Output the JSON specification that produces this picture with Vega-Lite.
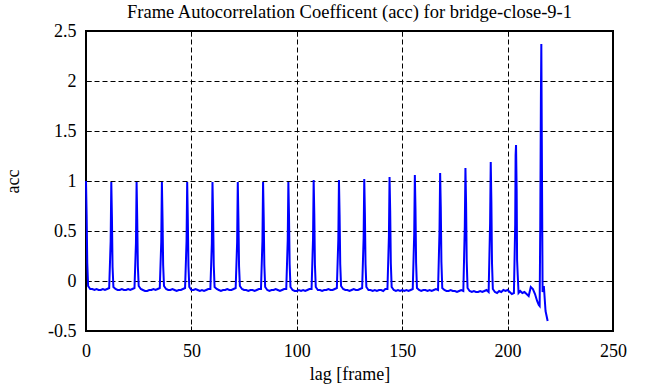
{
  "$schema": "https://vega.github.io/schema/vega-lite/v6.json",
  "width": 527,
  "height": 300,
  "autosize": {"type": "none"},
  "padding": {"left": 86, "top": 31, "right": 43, "bottom": 56},
  "background": "white",
  "title": {"text": "Frame Autocorrelation Coefficent (acc) for bridge-close-9-1", "anchor": "middle", "fontSize": 18.5, "fontWeight": "normal", "font": "Liberation Serif", "color": "black", "offset": 1},
  "config": {
    "font": "Liberation Serif",
    "style": {"guide-label": {"font": "Liberation Serif", "fill": "black"}, "guide-title": {"font": "Liberation Serif", "fill": "black"}},
    "view": {"stroke": "black", "strokeWidth": 2},
    "axis": {"labelFont": "Liberation Serif", "titleFont": "Liberation Serif", "labelFontSize": 18, "titleFontSize": 18, "titleFontWeight": "normal", "labelColor": "black", "titleColor": "black", "labelFlush": false, "domain": false, "tickColor": "black", "tickSize": -5, "tickWidth": 1, "grid": true, "gridColor": "black", "gridDash": [5, 3], "gridWidth": 1, "gridOpacity": 1}
  },
  "data": {"values": [
    {"lag":0,"acc":1.00},{"lag":0.3,"acc":0.66},{"lag":0.6,"acc":0.18},{"lag":1,"acc":-0.05},{"lag":2,"acc":-0.08},{"lag":3,"acc":-0.08},{"lag":4,"acc":-0.09},{"lag":5,"acc":-0.08},{"lag":6,"acc":-0.09},{"lag":7,"acc":-0.09},{"lag":8,"acc":-0.08},{"lag":9,"acc":-0.09},{"lag":10,"acc":-0.08},{"lag":11,"acc":-0.07},
    {"lag":11.7,"acc":0.40},{"lag":12,"acc":0.99},{"lag":12.3,"acc":0.64},{"lag":12.6,"acc":0.14},{"lag":13,"acc":-0.06},{"lag":14,"acc":-0.08},{"lag":15,"acc":-0.09},{"lag":16,"acc":-0.09},{"lag":17,"acc":-0.08},{"lag":18,"acc":-0.09},{"lag":19,"acc":-0.09},{"lag":20,"acc":-0.08},{"lag":21,"acc":-0.09},{"lag":22,"acc":-0.08},{"lag":23,"acc":-0.07},
    {"lag":23.7,"acc":0.38},{"lag":24,"acc":0.99},{"lag":24.3,"acc":0.62},{"lag":24.6,"acc":0.15},{"lag":25,"acc":-0.05},{"lag":26,"acc":-0.08},{"lag":27,"acc":-0.09},{"lag":28,"acc":-0.10},{"lag":29,"acc":-0.10},{"lag":30,"acc":-0.09},{"lag":31,"acc":-0.09},{"lag":32,"acc":-0.08},{"lag":33,"acc":-0.09},{"lag":34,"acc":-0.08},{"lag":35,"acc":-0.07},
    {"lag":35.7,"acc":0.39},{"lag":36,"acc":0.99},{"lag":36.3,"acc":0.63},{"lag":36.6,"acc":0.16},{"lag":37,"acc":-0.05},{"lag":38,"acc":-0.08},{"lag":39,"acc":-0.09},{"lag":40,"acc":-0.09},{"lag":41,"acc":-0.08},{"lag":42,"acc":-0.09},{"lag":43,"acc":-0.10},{"lag":44,"acc":-0.09},{"lag":45,"acc":-0.09},{"lag":46,"acc":-0.08},{"lag":47,"acc":-0.07},
    {"lag":47.7,"acc":0.40},{"lag":48,"acc":0.99},{"lag":48.3,"acc":0.62},{"lag":48.6,"acc":0.15},{"lag":49,"acc":-0.06},{"lag":50,"acc":-0.09},{"lag":51,"acc":-0.09},{"lag":52,"acc":-0.08},{"lag":53,"acc":-0.09},{"lag":54,"acc":-0.10},{"lag":55,"acc":-0.09},{"lag":56,"acc":-0.10},{"lag":57,"acc":-0.09},{"lag":58,"acc":-0.08},{"lag":59,"acc":-0.08},
    {"lag":59.7,"acc":0.38},{"lag":60,"acc":0.99},{"lag":60.3,"acc":0.65},{"lag":60.6,"acc":0.16},{"lag":61,"acc":-0.06},{"lag":62,"acc":-0.08},{"lag":63,"acc":-0.09},{"lag":64,"acc":-0.10},{"lag":65,"acc":-0.09},{"lag":66,"acc":-0.09},{"lag":67,"acc":-0.08},{"lag":68,"acc":-0.09},{"lag":69,"acc":-0.09},{"lag":70,"acc":-0.08},{"lag":71,"acc":-0.07},
    {"lag":71.7,"acc":0.39},{"lag":72,"acc":0.99},{"lag":72.3,"acc":0.63},{"lag":72.6,"acc":0.15},{"lag":73,"acc":-0.05},{"lag":74,"acc":-0.08},{"lag":75,"acc":-0.09},{"lag":76,"acc":-0.09},{"lag":77,"acc":-0.10},{"lag":78,"acc":-0.09},{"lag":79,"acc":-0.09},{"lag":80,"acc":-0.10},{"lag":81,"acc":-0.09},{"lag":82,"acc":-0.08},{"lag":83,"acc":-0.08},
    {"lag":83.7,"acc":0.40},{"lag":84,"acc":0.99},{"lag":84.3,"acc":0.64},{"lag":84.6,"acc":0.16},{"lag":85,"acc":-0.06},{"lag":86,"acc":-0.09},{"lag":87,"acc":-0.10},{"lag":88,"acc":-0.09},{"lag":89,"acc":-0.09},{"lag":90,"acc":-0.08},{"lag":91,"acc":-0.09},{"lag":92,"acc":-0.10},{"lag":93,"acc":-0.09},{"lag":94,"acc":-0.08},{"lag":95,"acc":-0.08},
    {"lag":95.7,"acc":0.41},{"lag":96,"acc":0.99},{"lag":96.3,"acc":0.66},{"lag":96.6,"acc":0.17},{"lag":97,"acc":-0.06},{"lag":98,"acc":-0.09},{"lag":99,"acc":-0.10},{"lag":100,"acc":-0.10},{"lag":101,"acc":-0.09},{"lag":102,"acc":-0.10},{"lag":103,"acc":-0.09},{"lag":104,"acc":-0.10},{"lag":105,"acc":-0.09},{"lag":106,"acc":-0.08},{"lag":107,"acc":-0.08},
    {"lag":107.7,"acc":0.42},{"lag":108,"acc":1.01},{"lag":108.3,"acc":0.67},{"lag":108.6,"acc":0.16},{"lag":109,"acc":-0.06},{"lag":110,"acc":-0.09},{"lag":111,"acc":-0.09},{"lag":112,"acc":-0.10},{"lag":113,"acc":-0.09},{"lag":114,"acc":-0.09},{"lag":115,"acc":-0.08},{"lag":116,"acc":-0.09},{"lag":117,"acc":-0.09},{"lag":118,"acc":-0.08},{"lag":119,"acc":-0.07},
    {"lag":119.7,"acc":0.42},{"lag":120,"acc":1.01},{"lag":120.3,"acc":0.66},{"lag":120.6,"acc":0.17},{"lag":121,"acc":-0.05},{"lag":122,"acc":-0.08},{"lag":123,"acc":-0.09},{"lag":124,"acc":-0.09},{"lag":125,"acc":-0.10},{"lag":126,"acc":-0.09},{"lag":127,"acc":-0.08},{"lag":128,"acc":-0.09},{"lag":129,"acc":-0.09},{"lag":130,"acc":-0.08},{"lag":131,"acc":-0.07},
    {"lag":131.7,"acc":0.43},{"lag":132,"acc":1.02},{"lag":132.3,"acc":0.68},{"lag":132.6,"acc":0.17},{"lag":133,"acc":-0.06},{"lag":134,"acc":-0.09},{"lag":135,"acc":-0.09},{"lag":136,"acc":-0.10},{"lag":137,"acc":-0.09},{"lag":138,"acc":-0.10},{"lag":139,"acc":-0.09},{"lag":140,"acc":-0.09},{"lag":141,"acc":-0.10},{"lag":142,"acc":-0.08},{"lag":143,"acc":-0.08},
    {"lag":143.7,"acc":0.45},{"lag":144,"acc":1.04},{"lag":144.3,"acc":0.70},{"lag":144.6,"acc":0.18},{"lag":145,"acc":-0.06},{"lag":146,"acc":-0.09},{"lag":147,"acc":-0.10},{"lag":148,"acc":-0.09},{"lag":149,"acc":-0.10},{"lag":150,"acc":-0.09},{"lag":151,"acc":-0.10},{"lag":152,"acc":-0.09},{"lag":153,"acc":-0.10},{"lag":154,"acc":-0.09},{"lag":155,"acc":-0.08},
    {"lag":155.7,"acc":0.47},{"lag":156,"acc":1.06},{"lag":156.3,"acc":0.72},{"lag":156.6,"acc":0.18},{"lag":157,"acc":-0.07},{"lag":158,"acc":-0.09},{"lag":159,"acc":-0.10},{"lag":160,"acc":-0.09},{"lag":161,"acc":-0.09},{"lag":162,"acc":-0.10},{"lag":163,"acc":-0.09},{"lag":164,"acc":-0.10},{"lag":165,"acc":-0.09},{"lag":166,"acc":-0.08},{"lag":167,"acc":-0.09},
    {"lag":167.7,"acc":0.50},{"lag":168,"acc":1.08},{"lag":168.3,"acc":0.74},{"lag":168.6,"acc":0.19},{"lag":169,"acc":-0.07},{"lag":170,"acc":-0.09},{"lag":171,"acc":-0.10},{"lag":172,"acc":-0.10},{"lag":173,"acc":-0.09},{"lag":174,"acc":-0.10},{"lag":175,"acc":-0.10},{"lag":176,"acc":-0.11},{"lag":177,"acc":-0.10},{"lag":178,"acc":-0.09},{"lag":179,"acc":-0.10},
    {"lag":179.7,"acc":0.55},{"lag":180,"acc":1.13},{"lag":180.3,"acc":0.78},{"lag":180.6,"acc":0.20},{"lag":181,"acc":-0.07},{"lag":182,"acc":-0.10},{"lag":183,"acc":-0.11},{"lag":184,"acc":-0.10},{"lag":185,"acc":-0.11},{"lag":186,"acc":-0.11},{"lag":187,"acc":-0.10},{"lag":188,"acc":-0.11},{"lag":189,"acc":-0.10},{"lag":190,"acc":-0.09},{"lag":191,"acc":-0.11},
    {"lag":191.7,"acc":0.58},{"lag":192,"acc":1.19},{"lag":192.3,"acc":0.80},{"lag":192.6,"acc":0.18},{"lag":193,"acc":-0.08},{"lag":194,"acc":-0.11},{"lag":195,"acc":-0.12},{"lag":196,"acc":-0.10},{"lag":197,"acc":-0.11},{"lag":198,"acc":-0.09},{"lag":199,"acc":-0.10},{"lag":200,"acc":-0.09},{"lag":201,"acc":-0.11},{"lag":202,"acc":-0.13},{"lag":203,"acc":-0.12},
    {"lag":203.6,"acc":0.56},{"lag":203.8,"acc":1.26},{"lag":204,"acc":1.36},{"lag":204.3,"acc":0.90},{"lag":204.5,"acc":0.21},{"lag":204.8,"acc":0.06},{"lag":205.2,"acc":-0.12},{"lag":206,"acc":-0.10},{"lag":207,"acc":-0.12},{"lag":208,"acc":-0.11},{"lag":209,"acc":-0.13},{"lag":210,"acc":-0.15},{"lag":211,"acc":-0.06},{"lag":212,"acc":-0.08},{"lag":213,"acc":-0.13},{"lag":214,"acc":-0.20},{"lag":214.8,"acc":-0.24},{"lag":215.2,"acc":-0.25},
    {"lag":215.5,"acc":0.56},{"lag":215.8,"acc":1.83},{"lag":216,"acc":2.37},{"lag":216.3,"acc":1.11},{"lag":216.6,"acc":-0.11},{"lag":217.2,"acc":-0.05},{"lag":218,"acc":-0.30},{"lag":219,"acc":-0.40}
  ]},
  "layer": [
    {
      "mark": {"type": "line", "color": "#0000FF", "strokeWidth": 2},
      "encoding": {
        "x": {"field": "lag", "type": "quantitative", "scale": {"domain": [0, 250], "nice": false}, "axis": {"orient": "bottom", "values": [0, 50, 100, 150, 200, 250], "title": "lag [frame]", "labelFont": "Liberation Serif", "titleFont": "Liberation Serif", "labelFlush": false, "labelPadding": 16, "titlePadding": 5, "encode": {"labels": {"update": {"font": {"value": "Liberation Serif"}}}}}},
        "y": {"field": "acc", "type": "quantitative", "scale": {"domain": [-0.5, 2.5], "nice": false}, "axis": {"orient": "left", "values": [-0.5, 0, 0.5, 1, 1.5, 2, 2.5], "labelExpr": "toString(datum.value)", "title": "acc", "labelFont": "Liberation Serif", "titleFont": "Liberation Serif", "labelFlush": false, "labelPadding": 15, "titlePadding": 25, "encode": {"labels": {"update": {"font": {"value": "Liberation Serif"}}}}}}
      }
    },
    {
      "mark": {"type": "line", "strokeOpacity": 0},
      "encoding": {
        "x": {"field": "lag", "type": "quantitative", "scale": {"domain": [0, 250], "nice": false}, "axis": {"orient": "top", "values": [0, 50, 100, 150, 200, 250], "labels": false, "grid": false, "title": null}},
        "y": {"field": "acc", "type": "quantitative", "scale": {"domain": [-0.5, 2.5], "nice": false}, "axis": {"orient": "right", "values": [-0.5, 0, 0.5, 1, 1.5, 2, 2.5], "labels": false, "grid": false, "title": null}}
      }
    }
  ],
  "resolve": {"axis": {"x": "independent", "y": "independent"}}
}
